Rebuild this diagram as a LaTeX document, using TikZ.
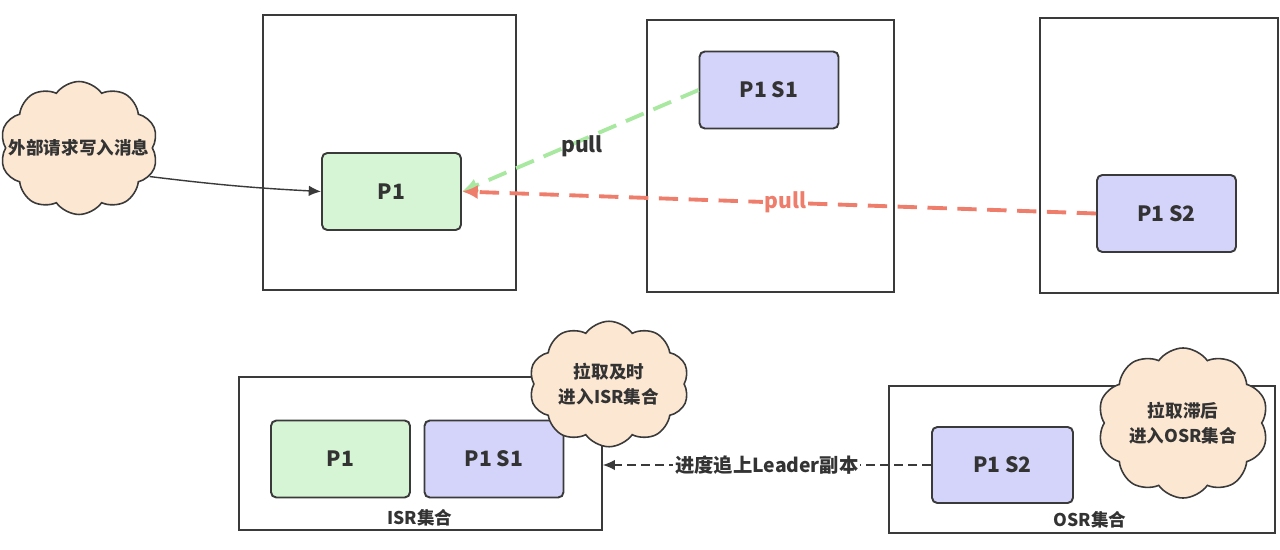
\documentclass[tikz,border=0pt]{standalone}
\usepackage{fontspec}
\setmainfont{Noto Sans CJK SC}
\usetikzlibrary{arrows.meta}
\usetikzlibrary{shapes.symbols}
\usepackage{xcolor}
\definecolor{mygray}{HTML}{3A3A3A}
\definecolor{mytext}{HTML}{333333}
\definecolor{mygreen}{HTML}{D5F5D5}
\definecolor{myblue}{HTML}{D4D4FA}
\definecolor{mypeach}{HTML}{FCE7D2}
\definecolor{mylightgreen}{HTML}{A8E8A0}
\definecolor{myred}{HTML}{EE7D6B}
\tikzset{
  >=latex, % default arrow head
  server/.style={draw=mygray,line width=0.8pt},
  part/.style={line width=1.1pt,rounded corners=3,draw=mygray,text=mytext,minimum width=2.78cm,minimum height=1.54cm,font=\fontsize{12}{14}\selectfont\bfseries},
  part leader/.style={part,fill=mygreen},
  part follower/.style={part,fill=myblue},
  note/.style={cloud,cloud puffs=10,cloud puff arc=110,aspect=1.2,draw=mygray,line width=0.9pt,fill=mypeach,text=mytext,align=center,inner sep=1pt,font=\fontsize{10}{14}\selectfont\bfseries},
  set label/.style={text=mytext,font=\fontsize{10}{12}\selectfont\bfseries},
  connect arrow/.style={-{Latex[length=7,width=6]},line width=0.8pt,mygray},
  pull green/.style={-{Latex[length=9,width=8]},line width=2.2pt,mylightgreen,dash pattern=on 11pt off 6pt},
  pull red/.style={-{Latex[length=9,width=8]},line width=2.2pt,myred,dash pattern=on 11pt off 6pt},
  catch up/.style={-{Latex[length=7,width=6]},line width=0.9pt,mygray,dash pattern=on 5pt off 3pt}
}
\begin{document}
\begin{tikzpicture}[x=0.02cm,y=-0.02cm]
  \useasboundingbox (0,0) rectangle (1280,550);
  % brokers
  \node[server,minimum width=5.06cm,minimum height=5.5cm] (srv1) at (389.5,152.5) {};
  \node[server,minimum width=4.94cm,minimum height=5.44cm] (srv2) at (770.5,156) {};
  \node[server,minimum width=4.76cm,minimum height=5.5cm] (srv3) at (1159,155.5) {};
  \node[part leader] (p1) at (391.5,191.5) {P1};
  \node[part follower] (s1) at (769,90) {P1 S1};
  \node[part follower] (s2) at (1166.5,213.5) {P1 S2};
  \node[note,inner xsep=-12pt,inner ysep=6pt,minimum width=3.16cm,minimum height=2.66cm] (req) at (79,148) {外部请求写入消息};

  \draw[connect arrow] (req.-22) to[bend right=2] (p1.west);
  \draw[pull green] (s1.west) -- (p1.east);
  \node[text=mytext,font=\fontsize{12}{14}\selectfont\bfseries] (pullA) at (582,146) {pull};
  \draw[pull red] (s2.west) -- node[pos=0.49,fill=white,inner sep=1pt,text=myred,font=\fontsize{12}{14}\selectfont\bfseries] (pullB) {pull} (p1.east);

  % ISR / OSR
  \node[server,minimum width=7.26cm,minimum height=3.06cm] (isr) at (420.5,453.5) {};
  \node[set label] (isrlab) at (420,518) {ISR集合};
  \node[part leader] (ip1) at (340.5,459) {P1};
  \node[part follower] (is1) at (494,459) {P1 S1};
  \node[note,inner xsep=-2pt,minimum width=3.2cm,minimum height=2.3cm] (ontime) at (609,384) {拉取及时\\进入ISR集合};

  \node[server,minimum width=7.72cm,minimum height=2.94cm] (osr) at (1082,459.5) {};
  \node[set label] (osrlab) at (1090,520) {OSR集合};
  \node[part follower,minimum width=2.82cm,minimum height=1.52cm] (os2) at (1002.5,465) {P1 S2};
  \node[note,minimum width=3.2cm,minimum height=2.6cm] (late) at (1183,423) {拉取滞后\\进入OSR集合};

  \draw[catch up] (os2.west) -- node[pos=0.5,fill=white,inner sep=1pt,text=mytext,font=\fontsize{11}{13}\selectfont\bfseries] (catchlab) {进度追上Leader副本} (isr.east |- os2.west);

\end{tikzpicture}
\end{document}
